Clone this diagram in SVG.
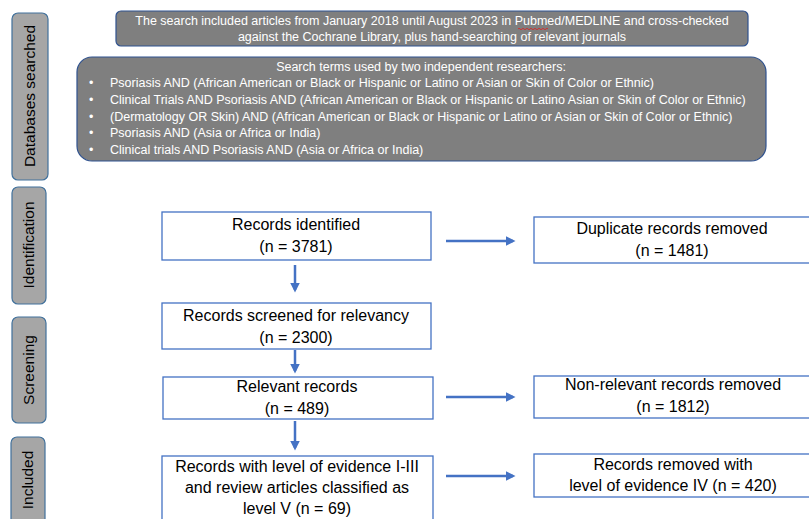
<svg xmlns="http://www.w3.org/2000/svg" width="809" height="519" viewBox="0 0 809 519">
<style>
.side{fill:#a6a6a6;stroke:#41719c;stroke-width:1.2}
.dark{fill:#7f7f7f;stroke:#2f528f;stroke-width:1.2}
.box{fill:#ffffff;stroke:#4472c4;stroke-width:1.3}
.st{font-family:"Liberation Sans",Arial,sans-serif;font-size:15.5px;fill:#000}
.wt{font-family:"Liberation Sans",Arial,sans-serif;font-size:12.5px;fill:#ffffff}
.bt{font-family:"Liberation Sans",Arial,sans-serif;font-size:16px;fill:#000;text-anchor:middle}
.conn{stroke:#4472c4;stroke-width:2.5;fill:none;marker-end:url(#ah)}
</style>
<defs>
<marker id="ah" markerWidth="4" markerHeight="4" refX="3" refY="2" orient="auto" markerUnits="strokeWidth">
<path d="M0,0 L4,2 L0,4 z" fill="#4472c4"/>
</marker>
</defs>
<rect width="809" height="519" fill="#ffffff"/>

<g id="side-databases">
<rect class="side" x="12" y="13" width="36" height="167" rx="6"/>
<text class="st" transform="translate(35,96) rotate(-90)" text-anchor="middle">Databases searched</text>
</g>
<g id="side-identification">
<rect class="side" x="12" y="187" width="34" height="117" rx="6"/>
<text class="st" transform="translate(34,245) rotate(-90)" text-anchor="middle">Identification</text>
</g>
<g id="side-screening">
<rect class="side" x="12" y="317" width="34" height="106" rx="6"/>
<text class="st" transform="translate(34,370) rotate(-90)" text-anchor="middle">Screening</text>
</g>
<g id="side-included">
<rect class="side" x="11" y="437" width="34" height="100" rx="6"/>
<text class="st" transform="translate(33,480) rotate(-90)" text-anchor="middle">Included</text>
</g>

<g id="search-period">
<rect class="dark" x="116" y="11" width="632" height="35" rx="5"/>
<text class="wt" x="432" y="25" text-anchor="middle">The search included articles from January 2018 until August 2023 in Pubmed/MEDLINE and cross-checked</text>
<text class="wt" x="432" y="41" text-anchor="middle">against the Cochrane Library, plus hand-searching of relevant journals</text>
<path d="M518,29 q1,-1.5 2,0 t2,0 t2,0 t2,0 t2,0 t2,0 t2,0 t2,0 t2,0 t2,0 t2,0 t2,0 t2,0 t2,0 t2,0" stroke="#e02020" stroke-width="0.8" fill="none"/>
</g>

<g id="search-terms">
<rect class="dark" x="77" y="57" width="689" height="104" rx="15"/>
<text class="wt" x="421" y="71" text-anchor="middle">Search terms used by two independent researchers:</text>
<text class="wt" x="89" y="87">•</text>
<text class="wt" x="110" y="87">Psoriasis AND (African American or Black or Hispanic or Latino or Asian or Skin of Color or Ethnic)</text>
<text class="wt" x="89" y="104">•</text>
<text class="wt" x="110" y="104">Clinical Trials AND Psoriasis AND (African American or Black or Hispanic or Latino Asian or Skin of Color or Ethnic)</text>
<text class="wt" x="89" y="121">•</text>
<text class="wt" x="110" y="121">(Dermatology OR Skin) AND (African American or Black or Hispanic or Latino or Asian or Skin of Color or Ethnic)</text>
<text class="wt" x="89" y="137">•</text>
<text class="wt" x="110" y="137">Psoriasis AND (Asia or Africa or India)</text>
<text class="wt" x="89" y="154">•</text>
<text class="wt" x="110" y="154">Clinical trials AND Psoriasis AND (Asia or Africa or India)</text>
</g>

<g id="records-identified">
<rect class="box" x="162" y="212" width="269" height="48"/>
<text class="bt" x="296" y="230">Records identified</text>
<text class="bt" x="296" y="252">(n = 3781)</text>
</g>
<g id="duplicates-removed">
<rect class="box" x="534" y="217" width="290" height="46"/>
<text class="bt" x="672" y="234">Duplicate records removed</text>
<text class="bt" x="672" y="256">(n = 1481)</text>
</g>
<g id="records-screened">
<rect class="box" x="162" y="303" width="269" height="46"/>
<text class="bt" x="296" y="321">Records screened for relevancy</text>
<text class="bt" x="296" y="343">(n = 2300)</text>
</g>
<g id="relevant-records">
<rect class="box" x="163" y="377" width="270" height="42"/>
<text class="bt" x="297" y="392">Relevant records</text>
<text class="bt" x="297" y="414">(n = 489)</text>
</g>
<g id="nonrelevant-removed">
<rect class="box" x="534" y="376" width="290" height="42"/>
<text class="bt" x="673" y="390">Non-relevant records removed</text>
<text class="bt" x="673" y="412">(n = 1812)</text>
</g>
<g id="included-records">
<rect class="box" x="162" y="456" width="271" height="80"/>
<text class="bt" x="297" y="472">Records with level of evidence I-III</text>
<text class="bt" x="297" y="493">and review articles classified as</text>
<text class="bt" x="297" y="514">level V (n = 69)</text>
</g>
<g id="level4-removed">
<rect class="box" x="534" y="454" width="290" height="43"/>
<text class="bt" x="673" y="470">Records removed with</text>
<text class="bt" x="673" y="491">level of evidence IV (n = 420)</text>
</g>

<g id="connectors">
<line class="conn" x1="446" y1="241" x2="513" y2="241"/>
<line class="conn" x1="295" y1="265" x2="295" y2="290"/>
<line class="conn" x1="295" y1="350" x2="295" y2="371"/>
<line class="conn" x1="446" y1="397" x2="513" y2="397"/>
<line class="conn" x1="295" y1="421" x2="295" y2="448"/>
<line class="conn" x1="446" y1="476" x2="513" y2="476"/>
</g>
</svg>
